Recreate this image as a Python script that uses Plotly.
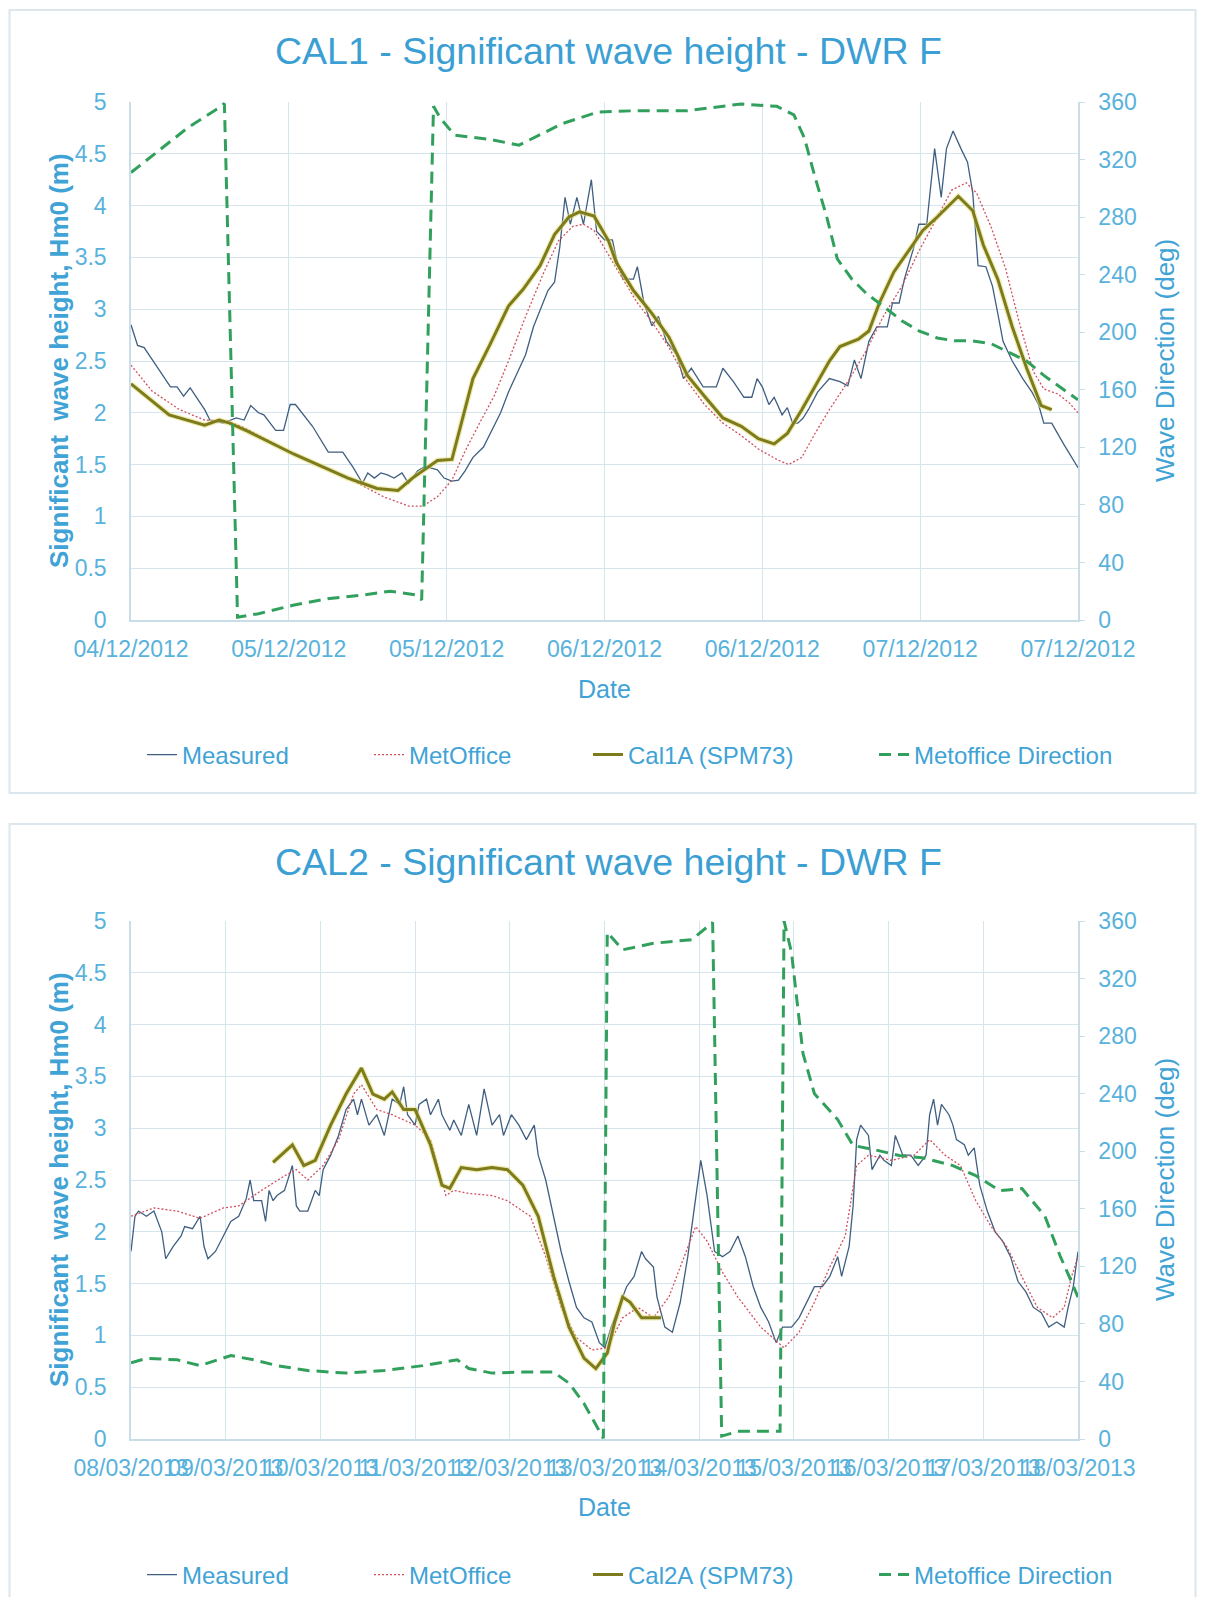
import plotly.graph_objects as go
import pandas as pd

# page is 1205x1605; the html body keeps an 8px margin round the figure
PAGE_PAD = 8
W, H = 1205 - 2 * PAGE_PAD, 1605 - 2 * PAGE_PAD

# ---------------- CAL1 data (hours after 04/12/2012 12:00) ----------------
c1_start = "2012-12-04 12:00"
c1_tick_hours = [0, 12, 24, 36, 48, 60, 72]
c1_tick_labels = ["04/12/2012", "05/12/2012", "05/12/2012", "06/12/2012",
                  "06/12/2012", "07/12/2012", "07/12/2012"]

c1_meas_hours = [0, 0.5, 1, 3, 3.5, 4, 4.5, 5.6, 6, 7, 8, 8.6, 9.1, 9.7, 10.1, 11, 11.6, 12.1, 12.5, 13.8,
                 15, 16.1, 16.9, 17.6, 18, 18.5, 19, 19.5, 20, 20.6, 21.1, 21.8, 22.2, 22.7, 23.3, 23.8,
                 24.4, 24.9, 25.4, 26, 26.8, 27.6, 28.1, 28.7, 29.5, 30, 30.6, 31, 31.7, 32.2, 32.6, 33,
                 33.4, 33.9, 34.4, 35, 35.4, 36, 36.6, 36.9, 37.4, 38.2, 38.5, 39, 39.6, 40.1, 40.7, 41.5,
                 42, 42.6, 43.5, 44.5, 45, 45.8, 46.6, 47.2, 47.6, 48, 48.5, 48.9, 49.5, 49.9, 50.3, 50.7,
                 51.1, 51.5, 52.2, 53.1, 53.9, 54.5, 55, 55.5, 56.1, 56.7, 57.5, 57.9, 58.4, 58.8, 59.5,
                 59.9, 60.5, 61.1, 61.6, 62, 62.5, 63.1, 63.6, 64, 64.4, 65, 65.5, 65.9, 66.3, 67, 67.8,
                 68.5, 69, 69.4, 70, 70.9, 72]
c1_measured = [2.85, 2.65, 2.63, 2.25, 2.25, 2.16, 2.24, 2.03, 1.93, 1.90, 1.95, 1.93, 2.07, 2.00, 1.98,
               1.83, 1.83, 2.08, 2.08, 1.87, 1.62, 1.62, 1.47, 1.32, 1.42, 1.37, 1.42, 1.40, 1.37, 1.42,
               1.32, 1.44, 1.47, 1.47, 1.45, 1.37, 1.34, 1.35, 1.44, 1.57, 1.67, 1.87, 2.00, 2.20, 2.43,
               2.56, 2.83, 2.96, 3.18, 3.26, 3.60, 4.08, 3.82, 4.08, 3.82, 4.25, 3.75, 3.67, 3.67, 3.49,
               3.29, 3.29, 3.41, 3.06, 2.84, 2.93, 2.69, 2.56, 2.33, 2.43, 2.25, 2.25, 2.43, 2.30, 2.15,
               2.15, 2.33, 2.25, 2.08, 2.15, 1.98, 2.05, 1.90, 1.90, 1.95, 2.03, 2.20, 2.33, 2.30, 2.26,
               2.51, 2.33, 2.69, 2.83, 2.83, 3.06, 3.06, 3.29, 3.59, 3.82, 3.82, 4.55, 4.08, 4.55, 4.72,
               4.55, 4.42, 4.12, 3.42, 3.41, 3.22, 2.96, 2.69, 2.50, 2.33, 2.20, 2.08, 1.90, 1.90, 1.70,
               1.47]

c1_met_hours = [0, 1.6, 3.7, 5.6, 7.3, 8.4, 12.4, 16.5, 19.2, 21.1, 22.2, 23.3, 24.4, 25.4, 26.5, 27.6,
                28.7, 30, 31.4, 32.5, 33.6, 34.4, 35.2, 36.3, 37.4, 38.5, 39.6, 40.9, 42.3, 43.6, 45,
                46.4, 47.7, 49.1, 50, 51, 52, 53.1, 54.5, 55.9, 57.2, 58.6, 59.9, 61.3, 62.4, 63.5, 64.3,
                65.4, 66.5, 67.5, 68.6, 69.4, 70.5, 71.3, 72]
c1_metoffice = [2.46, 2.21, 2.03, 1.93, 1.92, 1.87, 1.60, 1.37, 1.19, 1.10, 1.10, 1.19, 1.35, 1.63, 1.90,
                2.16, 2.50, 2.93, 3.36, 3.66, 3.80, 3.82, 3.76, 3.52, 3.29, 3.06, 2.88, 2.63, 2.30, 2.08,
                1.90, 1.78, 1.65, 1.55, 1.50, 1.57, 1.80, 2.03, 2.30, 2.60, 2.93, 3.22, 3.56, 3.89, 4.15,
                4.22, 4.12, 3.79, 3.39, 2.89, 2.40, 2.23, 2.18, 2.10, 2.00]

c1_cal_hours = [0, 2.9, 5.6, 6.7, 7.5, 8.9, 12.4, 16.5, 18.7, 20.3, 21.4, 22.5, 23.3, 24.4, 25, 26, 27.3,
                28.7, 29.8, 31.1, 32.2, 33.3, 34.1, 35.2, 36.3, 36.9, 38.2, 39.6, 40.9, 42.3, 43.6, 45,
                46.4, 47.7, 48.9, 49.9, 51, 52, 53.1, 53.9, 55.3, 56.1, 56.9, 58, 59.1, 60.2, 61.3, 62.9,
                64, 64.8, 65.9, 67, 68.1, 69.2, 70]
c1_cal1a = [2.28, 1.98, 1.88, 1.93, 1.90, 1.82, 1.60, 1.37, 1.27, 1.25, 1.37, 1.47, 1.54, 1.55, 1.85, 2.33,
            2.66, 3.03, 3.19, 3.42, 3.72, 3.89, 3.94, 3.90, 3.66, 3.45, 3.18, 2.96, 2.73, 2.36, 2.16, 1.95,
            1.87, 1.75, 1.70, 1.80, 2.03, 2.26, 2.50, 2.64, 2.71, 2.79, 3.06, 3.36, 3.56, 3.76, 3.89, 4.09,
            3.95, 3.62, 3.29, 2.83, 2.43, 2.07, 2.03]

c1_dir_hours = [0, 4.3, 6.7, 7.1, 8.1, 9.7, 12.4, 15.1, 17.8, 19.7, 21.6, 22.1, 23.0, 23.5, 24.6, 27.3,
                29.5, 31.1, 32.8, 35.5, 38.5, 42.3, 46.4, 49.1, 50.4, 51.2, 52, 52.9, 53.7, 54.8, 55.9,
                57.2, 58.6, 59.9, 61.3, 62.6, 64, 65.4, 66.7, 68.1, 69.4, 70.8, 72]
c1_direction = [311, 342, 356, 359, 2, 4.4, 10.4, 15, 17.6, 20, 17.6, 14, 357, 349, 337, 334, 330, 337,
                345, 353, 354, 354, 358.6, 357, 351, 335, 308, 280, 251, 237, 227, 218, 208, 201, 196,
                194, 194, 192, 186, 180, 170, 161, 153]

# ---------------- CAL2 data (hours after 08/03/2013 00:00) ----------------
c2_start = "2013-03-08 00:00"
c2_tick_hours = [0, 24, 48, 72, 96, 120, 144, 168, 192, 216, 240]
c2_tick_labels = ["08/03/2013", "09/03/2013", "10/03/2013", "11/03/2013", "12/03/2013", "13/03/2013",
                  "14/03/2013", "15/03/2013", "16/03/2013", "17/03/2013", "18/03/2013"]

c2_meas_hours = [0, 1.0, 1.9, 3.9, 5.8, 7.8, 8.8, 10.7, 12.7, 13.6, 15.6, 17.5, 18.5, 19.5, 21.4, 23.4,
                 25.3, 27.3, 29.2, 30.2, 31.1, 33.1, 34.1, 35.0, 36.0, 37.0, 38.9, 40.9, 41.9, 42.8, 44.8,
                 46.7, 47.7, 48.7, 50.6, 52.6, 54.5, 56.4, 57.4, 58.4, 60.3, 62.3, 64.2, 66.2, 68.1, 69.1,
                 70.1, 72.0, 73.0, 74.9, 75.9, 77.9, 78.8, 80.8, 81.8, 83.7, 85.6, 87.6, 89.5, 91.5, 93.4,
                 94.4, 96.4, 98.3, 100.2, 102.2, 103.2, 105.1, 107.1, 109.0, 111.0, 112.9, 114.8, 116.8,
                 118.7, 120.1, 121.7, 123.6, 125.6, 127.5, 129.4, 130.4, 132.4, 133.3, 135.3, 137.2,
                 139.2, 141.1, 142.1, 143.1, 144.4, 146.0, 147.9, 149.9, 151.8, 153.8, 155.7, 157.7,
                 159.6, 161.6, 163.5, 165.1, 167.4, 169.3, 171.3, 173.2, 175.2, 177.1, 179.1, 180.1,
                 182.0, 183.0, 183.9, 184.9, 186.9, 187.8, 189.8, 190.8, 192.7, 193.7, 195.6, 197.6,
                 199.5, 201.5, 202.4, 203.4, 204.4, 205.4, 207.3, 208.3, 209.2, 211.2, 212.2, 213.7,
                 215.1, 217.0, 219.0, 220.9, 222.9, 224.8, 226.8, 228.7, 230.7, 232.6, 234.6, 236.5,
                 237.5, 238.8, 240.0]
c2_measured = [1.81, 2.15, 2.2, 2.15, 2.2, 2.0, 1.74, 1.86, 1.96, 2.05, 2.03, 2.15, 1.86, 1.74, 1.81, 1.96,
               2.1, 2.15, 2.32, 2.5, 2.3, 2.3, 2.1, 2.4, 2.3, 2.35, 2.4, 2.64, 2.25, 2.2, 2.2, 2.4, 2.35,
               2.6, 2.74, 2.93, 3.18, 3.28, 3.13, 3.28, 3.03, 3.13, 2.93, 3.28, 3.23, 3.4, 3.13, 3.03,
               3.23, 3.28, 3.13, 3.28, 3.13, 2.98, 3.08, 2.93, 3.23, 2.93, 3.38, 3.03, 3.13, 2.93, 3.13,
               3.03, 2.89, 3.03, 2.74, 2.5, 2.15, 1.81, 1.52, 1.27, 1.17, 1.13, 0.93, 0.88, 1.08, 1.27,
               1.47, 1.57, 1.81, 1.74, 1.66, 1.37, 1.08, 1.03, 1.32, 1.76, 2.05, 2.35, 2.69, 2.35, 1.81,
               1.76, 1.81, 1.96, 1.76, 1.47, 1.27, 1.13, 0.93, 1.08, 1.08, 1.17, 1.32, 1.47, 1.47, 1.57,
               1.76, 1.57, 1.86, 2.25, 2.89, 3.03, 2.93, 2.6, 2.74, 2.69, 2.64, 2.93, 2.74, 2.74, 2.64,
               2.74, 3.13, 3.28, 3.03, 3.23, 3.13, 3.03, 2.89, 2.84, 2.74, 2.81, 2.45, 2.2, 2.0, 1.91,
               1.76, 1.52, 1.42, 1.27, 1.22, 1.08, 1.13, 1.08, 1.27, 1.47, 1.81]

c2_met_hours = [0, 5.8, 11.7, 17.5, 23.4, 27.3, 33.1, 38.9, 41.9, 44.8, 48.7, 52.6, 56.4, 58.4, 62.3, 66.2,
                72.0, 75.9, 79.8, 81.8, 85.6, 91.5, 95.4, 101.2, 105.1, 109.0, 112.9, 116.8, 120.7,
                124.6, 128.5, 132.4, 136.3, 140.1, 143.1, 146.0, 149.9, 153.8, 159.6, 165.5, 169.3,
                173.2, 177.1, 181.0, 183.9, 186.9, 192.7, 198.5, 202.4, 206.3, 210.2, 214.1, 218.0,
                221.9, 225.8, 229.7, 233.6, 236.5, 238.4, 240.0]
c2_metoffice = [2.15, 2.23, 2.2, 2.13, 2.23, 2.25, 2.4, 2.54, 2.6, 2.5, 2.64, 2.89, 3.33, 3.42, 3.18, 3.13,
                3.03, 2.89, 2.35, 2.4, 2.37, 2.35, 2.3, 2.15, 1.76, 1.27, 0.98, 0.86, 0.88, 1.17, 1.27,
                1.17, 1.37, 1.76, 2.05, 1.91, 1.61, 1.37, 1.08, 0.88, 1.03, 1.32, 1.66, 1.96, 2.64, 2.74,
                2.69, 2.74, 2.89, 2.74, 2.64, 2.3, 2.05, 1.86, 1.57, 1.27, 1.17, 1.27, 1.57, 1.76]

c2_cal_hours = [36.0, 40.9, 43.8, 46.7, 50.6, 54.5, 58.4, 61.3, 64.2, 66.2, 69.1, 72.0, 75.9, 78.8, 80.8,
                83.7, 87.6, 91.5, 95.4, 99.3, 103.2, 107.1, 111.0, 114.8, 117.8, 120.7, 122.6, 124.6,
                126.5, 129.4, 132.4, 134.3]
c2_cal2a = [2.67, 2.84, 2.64, 2.69, 3.03, 3.33, 3.58, 3.33, 3.28, 3.35, 3.18, 3.18, 2.84, 2.45, 2.42, 2.62,
            2.6, 2.62, 2.6, 2.45, 2.15, 1.57, 1.08, 0.78, 0.68, 0.83, 1.13, 1.37, 1.32, 1.17, 1.17, 1.17]

c2_dir_hours = [0, 3.9, 11.7, 17.5, 25.3, 31.1, 37.0, 44.8, 54.5, 64.2, 74.0, 82.7, 85.6, 91.5, 99.3,
                107.1, 111.0, 114.8, 119.7, 120.7, 124.6, 132.4, 142.1, 147.4, 149.7, 153.8, 164.5,
                165.5, 167.4, 170.3, 173.2, 179.1, 183.0, 188.8, 194.7, 200.5, 208.3, 214.1, 220.2,
                225.8, 231.6, 235.5, 238.4, 240.0]
c2_direction = [53, 56, 55, 51, 58, 55, 51, 47.6, 45.8, 47.6, 51, 55, 49, 45.8, 46.5, 46.5, 38.8, 24.7,
                0.5, 352, 340, 344.5, 347, 359, 2, 5.3, 5.3, 360, 338, 268, 240, 222, 204, 200.8, 197,
                195.5, 190, 183, 172.6, 174, 155, 127, 109, 98.6]

# ---------------- styling ----------------
FONT = "Liberation Sans, Arial, sans-serif"
TITLE_C = "#3c9fd4"
LABEL_C = "#3fa3d6"
TICK_C = "#58b2dc"
GRID_C = "#d5e5ee"
LINE_C = "#c9dde8"
C_MEAS = "#3f5f80"
C_MET = "#d2505e"
C_CAL = "#7d7b1c"
C_CAL_GLOW = "rgba(226,222,120,0.55)"
C_DIR = "#31a05c"


def px(x):
    """screen x (page pixels) -> paper fraction"""
    return (x - PAGE_PAD) / W


def py(y):
    """screen y (page pixels) -> paper fraction"""
    return 1 - (y - PAGE_PAD) / H


def times(start, hours):
    return pd.Timestamp(start) + pd.to_timedelta(hours, unit="h")


fig = go.Figure()


def add_chart(start, meas_h, meas, met_h, met, cal_h, cal, cal_name, dir_h, direc, xa, ya, ya2, legs):
    fig.add_trace(go.Scatter(x=times(start, meas_h), y=meas, name="Measured", mode="lines",
                             line=dict(color=C_MEAS, width=1.3), xaxis=xa, yaxis=ya, legend=legs[0]))
    fig.add_trace(go.Scatter(x=times(start, met_h), y=met, name="MetOffice", mode="lines",
                             line=dict(color=C_MET, width=1.3, dash="2px,2px"), xaxis=xa, yaxis=ya,
                             legend=legs[1]))
    # soft halo under the calibrated run, as in the original
    fig.add_trace(go.Scatter(x=times(start, cal_h), y=cal, mode="lines", showlegend=False,
                             hoverinfo="skip", line=dict(color=C_CAL_GLOW, width=5.5),
                             xaxis=xa, yaxis=ya))
    fig.add_trace(go.Scatter(x=times(start, cal_h), y=cal, name=cal_name, mode="lines",
                             line=dict(color=C_CAL, width=3), xaxis=xa, yaxis=ya, legend=legs[2]))
    fig.add_trace(go.Scatter(x=times(start, dir_h), y=direc, name="Metoffice Direction", mode="lines",
                             line=dict(color=C_DIR, width=3, dash="12px,7px"), xaxis=xa, yaxis=ya2,
                             legend=legs[3]))


add_chart(c1_start, c1_meas_hours, c1_measured, c1_met_hours, c1_metoffice, c1_cal_hours, c1_cal1a,
          "Cal1A (SPM73)", c1_dir_hours, c1_direction, "x", "y", "y2",
          ["legend", "legend2", "legend3", "legend4"])
add_chart(c2_start, c2_meas_hours, c2_measured, c2_met_hours, c2_metoffice, c2_cal_hours, c2_cal2a,
          "Cal2A (SPM73)", c2_dir_hours, c2_direction, "x2", "y3", "y4",
          ["legend5", "legend6", "legend7", "legend8"])

tickfont = dict(family=FONT, size=23, color=TICK_C)


def xaxis_cfg(start, tick_h, tick_lab, end_h, anchor):
    return dict(domain=[px(131), px(1078)], anchor=anchor, type="date", automargin=False,
                range=[times(start, 0), times(start, end_h)],
                tickmode="array", tickvals=list(times(start, tick_h)), ticktext=tick_lab,
                tickangle=0, showgrid=True, gridcolor=GRID_C, gridwidth=1,
                showline=True, linecolor=LINE_C, linewidth=1.5, ticks="",
                ticklabelstandoff=8, tickfont=tickfont, zeroline=False)


def yaxis_cfg(dom, anchor):
    return dict(domain=dom, anchor=anchor, range=[0, 5], dtick=0.5, tick0=0, automargin=False,
                showgrid=True, gridcolor=GRID_C, gridwidth=1, showline=True, linecolor=LINE_C,
                linewidth=1.5, ticks="", ticklabelstandoff=18, tickfont=tickfont, zeroline=False)


def yaxis2_cfg(over, anchor):
    return dict(overlaying=over, anchor=anchor, side="right", range=[0, 360], dtick=40, tick0=0,
                automargin=False, showgrid=False, showline=True, linecolor=LINE_C, linewidth=1.5,
                ticks="outside", ticklen=5, tickcolor=LINE_C, ticklabelstandoff=9, tickfont=tickfont,
                zeroline=False)


dom1 = [py(620), py(102)]
dom2 = [py(1439), py(921)]

annotations = []


def chart_texts(title, title_y, mid_y, date_y):
    annotations.append(dict(text=title, x=px(608), y=py(title_y), xref="paper", yref="paper",
                            showarrow=False, xanchor="center", yanchor="middle",
                            font=dict(family=FONT, size=37.5, color=TITLE_C)))
    annotations.append(dict(text="<b>Significant  wave height, Hm0 (m)</b>", x=px(59), y=py(mid_y),
                            xref="paper", yref="paper", showarrow=False, textangle=-90,
                            xanchor="center", yanchor="middle",
                            font=dict(family=FONT, size=26, color=LABEL_C)))
    annotations.append(dict(text="Wave Direction (deg)", x=px(1165), y=py(mid_y), xref="paper",
                            yref="paper", showarrow=False, textangle=-90, xanchor="center",
                            yanchor="middle", font=dict(family=FONT, size=26, color=LABEL_C)))
    annotations.append(dict(text="Date", x=px(604), y=py(date_y), xref="paper", yref="paper",
                            showarrow=False, xanchor="center", yanchor="middle",
                            font=dict(family=FONT, size=25, color=LABEL_C)))


chart_texts("CAL1 - Significant wave height - DWR F", 51, 361, 689)
chart_texts("CAL2 - Significant wave height - DWR F", 862, 1180, 1507)

legend_font = dict(family=FONT, size=24, color=LABEL_C)
legend_layout = {}
text_starts = [184, 411, 630, 916]
for i, ly in enumerate([755, 1575]):
    for j, xs in enumerate(text_starts):
        n = i * 4 + j + 1
        key = "legend" if n == 1 else f"legend{n}"
        legend_layout[key] = dict(x=px(xs - 42), y=py(ly), xanchor="left", yanchor="middle",
                                  orientation="h", bgcolor="rgba(0,0,0,0)", font=legend_font,
                                  borderwidth=0)

shapes = [
    dict(type="rect", xref="paper", yref="paper", x0=px(9.5), x1=px(1195.5), y0=py(793), y1=py(10),
         line=dict(color="#dbe6ed", width=2), fillcolor="rgba(0,0,0,0)", layer="below"),
    dict(type="rect", xref="paper", yref="paper", x0=px(9.5), x1=px(1195.5), y0=py(1620), y1=py(824),
         line=dict(color="#dbe6ed", width=2), fillcolor="rgba(0,0,0,0)", layer="below"),
]

fig.update_layout(
    width=W, height=H, margin=dict(l=0, r=0, t=0, b=0, autoexpand=False),
    paper_bgcolor="white", plot_bgcolor="white",
    font=dict(family=FONT, color=LABEL_C),
    xaxis=xaxis_cfg(c1_start, c1_tick_hours, c1_tick_labels, 72, "y"),
    yaxis=yaxis_cfg(dom1, "x"),
    yaxis2=yaxis2_cfg("y", "x"),
    xaxis2=xaxis_cfg(c2_start, c2_tick_hours, c2_tick_labels, 240, "y3"),
    yaxis3=yaxis_cfg(dom2, "x2"),
    yaxis4=yaxis2_cfg("y3", "x2"),
    annotations=annotations,
    shapes=shapes,
    showlegend=True,
    **legend_layout,
)

fig.write_html("out.html")
